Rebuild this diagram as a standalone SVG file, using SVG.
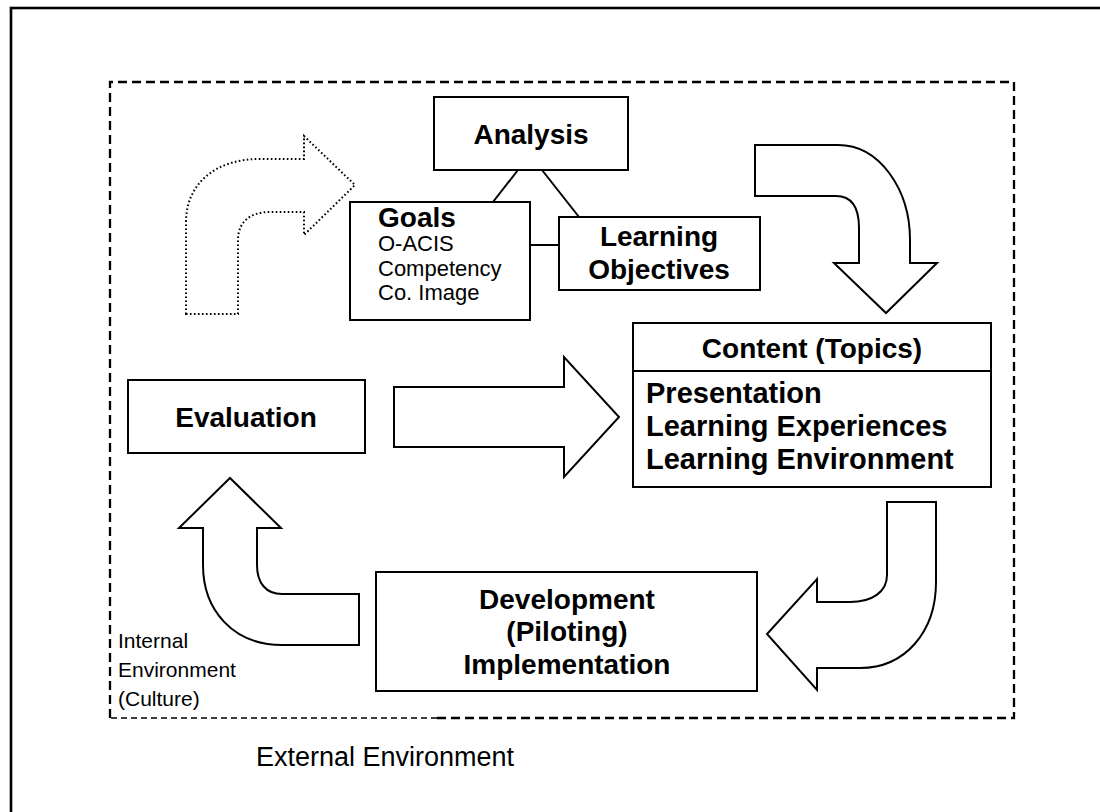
<svg xmlns="http://www.w3.org/2000/svg" width="1100" height="812" viewBox="0 0 1100 812">
  <style>
    .box { fill: #fff; stroke: #000; stroke-width: 2; }
    .arrow { fill: #fff; stroke: #000; stroke-width: 2; stroke-linejoin: miter; }
    .dotted { fill: none; stroke: #000; stroke-width: 2; stroke-dasharray: 1.6 2.4; }
    .link { stroke: #000; stroke-width: 2; fill: none; }
    .b { font-family: "Liberation Sans", Arial, sans-serif; font-weight: bold; font-size: 28px; fill: #000; }
    .b29 { font-size: 29px; }
    .r { font-family: "Liberation Sans", Arial, sans-serif; font-size: 22px; fill: #000; }
    .small { font-family: "Liberation Sans", Arial, sans-serif; font-size: 21px; fill: #000; }
    .env { font-family: "Liberation Sans", Arial, sans-serif; font-size: 27px; fill: #000; }
  </style>
  <rect width="1100" height="812" fill="#fff"/>

  <!-- external environment frame (runs past the right and bottom edges) -->
  <rect x="11" y="8" width="1200" height="900" fill="none" stroke="#000" stroke-width="2.6"/>

  <!-- internal environment boundary -->
  <g id="internal-boundary" fill="none" stroke="#000">
    <path d="M110,718 L110,82 L1014,82 L1014,718 L437,718" stroke-width="2.3" stroke-dasharray="9 5"/>
    <path d="M437,718 L110,718" stroke-width="1.4" stroke-dasharray="6 4"/>
  </g>

  <!-- process arrows -->
  <g id="connectors">
    <path class="dotted" d="M186,314 L186,222 C186,185 214,159 260,159 L304,159 L304,136 L355,185 L304,235 L304,212 L270,212 C250,212 238,222 238,240 L238,314 Z"/>
    <path class="arrow" d="M755,145 L838,145 C880,145 910,190 910,240 L910,263 L937,263 L886,313 L834,263 L859,263 L859,228 C859,208 852,196 836,196 L755,196 Z"/>
    <path class="arrow" d="M394,387 L564,387 L564,357 L619,417 L564,477 L564,447 L394,447 Z"/>
    <path class="arrow" d="M887,502 L936,502 L936,582 C936,632 905,668 860,668 L817,668 L817,690 L767,634 L817,579 L817,602 L850,602 C872,602 887,592 887,575 Z"/>
    <path class="arrow" d="M230,478 L281,528 L257,528 L257,565 C257,583 266,594 282,594 L359,594 L359,645 L282,645 C233,645 203,610 203,565 L203,528 L179,528 Z"/>
    <line class="link" x1="518" y1="170" x2="493" y2="202"/>
    <line class="link" x1="542" y1="170" x2="579" y2="217"/>
    <line class="link" x1="530" y1="245" x2="559" y2="245"/>
  </g>

  <g id="analysis">
    <rect class="box" x="434" y="97" width="194" height="73"/>
    <text class="b" x="531" y="144" text-anchor="middle">Analysis</text>
  </g>

  <g id="goals">
    <rect class="box" x="350" y="202" width="180" height="118"/>
    <text class="b" x="378" y="227">Goals</text>
    <text class="r" x="378" y="251">O-ACIS</text>
    <text class="r" x="378" y="275.5">Competency</text>
    <text class="r" x="378" y="300">Co. Image</text>
  </g>

  <g id="learning-objectives">
    <rect class="box" x="559" y="217" width="201" height="73"/>
    <text class="b" x="659" y="246" text-anchor="middle">Learning</text>
    <text class="b" x="659" y="279" text-anchor="middle">Objectives</text>
  </g>

  <g id="content">
    <rect class="box" x="633" y="323" width="358" height="164"/>
    <line class="link" x1="633" y1="371" x2="991" y2="371"/>
    <text class="b" x="812" y="358" text-anchor="middle">Content (Topics)</text>
    <text class="b b29" x="646" y="403">Presentation</text>
    <text class="b b29" x="646" y="436">Learning Experiences</text>
    <text class="b b29" x="646" y="469">Learning Environment</text>
  </g>

  <g id="evaluation">
    <rect class="box" x="128" y="380" width="237" height="73"/>
    <text class="b" x="246" y="427" text-anchor="middle">Evaluation</text>
  </g>

  <g id="development">
    <rect class="box" x="376" y="572" width="381" height="119"/>
    <text class="b" x="567" y="609" text-anchor="middle">Development</text>
    <text class="b" x="567" y="641" text-anchor="middle">(Piloting)</text>
    <text class="b" x="567" y="674" text-anchor="middle">Implementation</text>
  </g>

  <g id="internal-label">
    <text class="small" x="118" y="648">Internal</text>
    <text class="small" x="118" y="677">Environment</text>
    <text class="small" x="118" y="706">(Culture)</text>
  </g>

  <g id="external-label">
    <text class="env" x="256" y="766">External Environment</text>
  </g>
</svg>
